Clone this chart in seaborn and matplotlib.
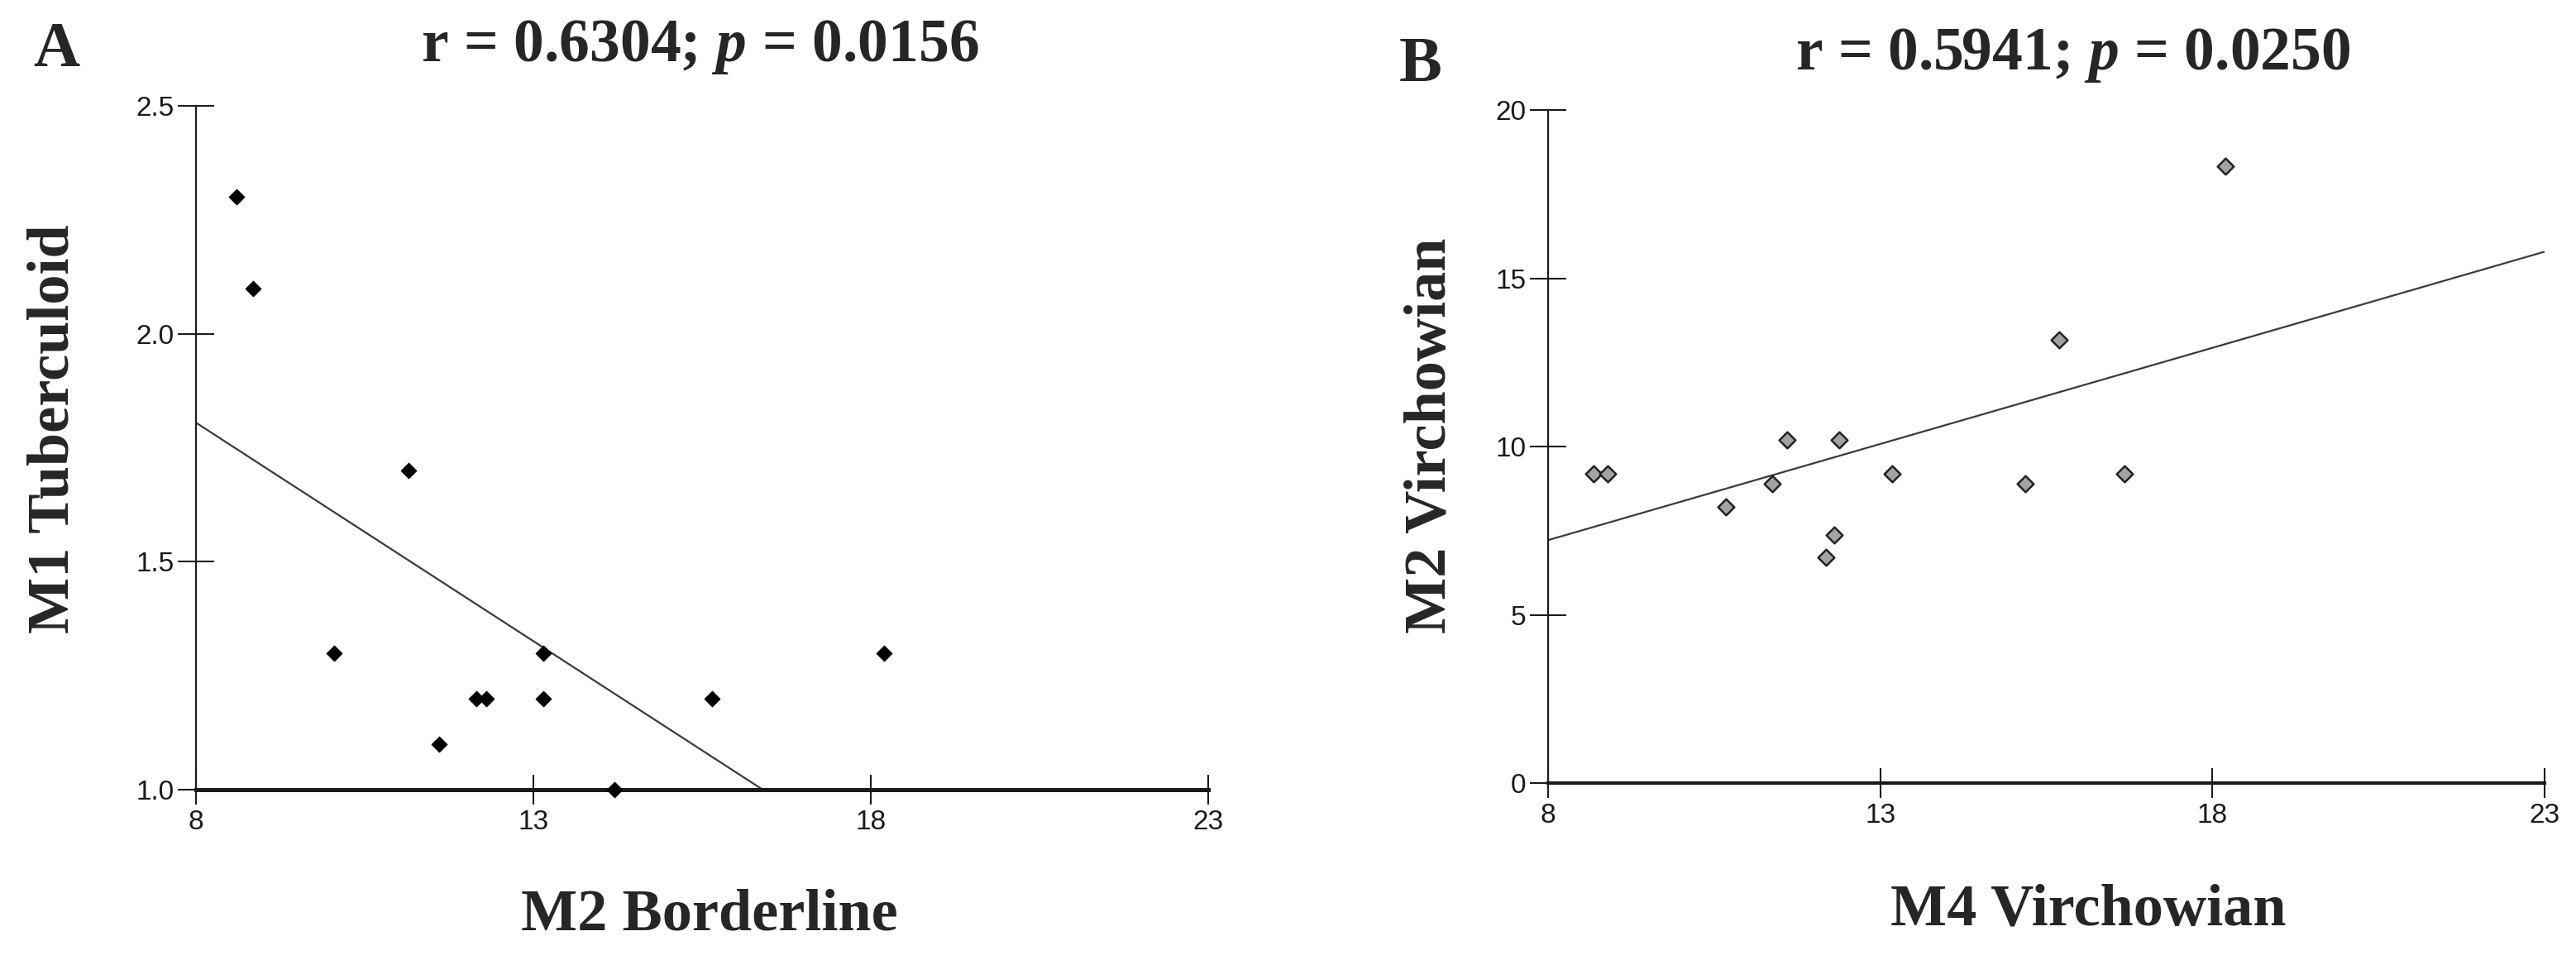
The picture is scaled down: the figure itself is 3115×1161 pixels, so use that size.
import numpy as np
import pandas as pd
import seaborn as sns
import matplotlib.pyplot as plt

# panel A: M2 Borderline vs M1 Tuberculoid
a_x = [8.6, 8.85, 11.15, 10.05, 13.15, 18.2, 12.15, 12.3, 13.15, 15.65, 11.6, 14.2]
a_y = [2.3, 2.1, 1.7, 1.3, 1.3, 1.3, 1.2, 1.2, 1.2, 1.2, 1.1, 1.0]
a_fit_x = [8.0, 16.4]
a_fit_y = [1.805, 1.0]

# panel B: M4 Virchowian vs M2 Virchowian
b_x = [8.68, 8.9, 10.68, 11.37, 11.6, 12.38, 12.3, 12.18, 13.18, 15.18, 15.69, 16.68, 18.2]
b_y = [9.2, 9.2, 8.2, 8.9, 10.2, 10.2, 7.38, 6.7, 9.2, 8.9, 13.18, 9.2, 18.33]
b_fit_x = [8.0, 23.0]
b_fit_y = [7.22, 15.79]

x_ticks = [8, 13, 18, 23]
a_yticks = [1.0, 1.5, 2.0, 2.5]
b_yticks = [0, 5, 10, 15, 20]

sns.set_style('white')
plt.rcParams['font.family'] = ['Liberation Serif', 'DejaVu Serif']
plt.rcParams['mathtext.fontset'] = 'custom'
plt.rcParams['mathtext.it'] = 'Liberation Serif:italic:bold'
plt.rcParams['mathtext.rm'] = 'Liberation Serif:bold'

fig = plt.figure(figsize=(31.15, 11.61), dpi=100)
ax_a = fig.add_axes([0.0761, 0.1774, 0.3929, 0.7123])
ax_b = fig.add_axes([0.6010, 0.1843, 0.3868, 0.7011])


def style_axis(ax, yticks, ylim, bottom_lw):
    ax.set_xlim(8, 23)
    ax.set_ylim(*ylim)
    ax.set_xticks(x_ticks)
    ax.set_yticks(yticks)
    sns.despine(ax=ax)
    ax.spines['left'].set_linewidth(1.6)
    ax.spines['left'].set_color('#1a1a1a')
    ax.spines['bottom'].set_linewidth(bottom_lw)
    ax.spines['bottom'].set_color('#1a1a1a')
    ax.tick_params(axis='y', direction='inout', length=32, width=1.5, pad=3,
                   labelsize=24, colors='#1a1a1a', left=True)
    ax.tick_params(axis='x', direction='inout', length=26, width=1.5, pad=4,
                   labelsize=24, colors='#1a1a1a', bottom=True)
    for lbl in ax.get_xticklabels() + ax.get_yticklabels():
        lbl.set_fontfamily('Liberation Sans')


# panel A
sns.lineplot(x=a_fit_x, y=a_fit_y, ax=ax_a, color='#3a3a3a', linewidth=1.6)
sns.scatterplot(x=a_x, y=a_y, ax=ax_a, marker='D', s=95, color='black',
                edgecolor='black', linewidth=0.5, clip_on=False, zorder=3)
style_axis(ax_a, a_yticks, (1.0, 2.5), 3.6)
ax_a.set_yticklabels(['1.0', '1.5', '2.0', '2.5'], fontfamily='Liberation Sans')
ax_a.set_title(r'r = 0.6304; $p$ = 0.0156', fontsize=53, fontweight='bold',
               x=0.4975, y=1.0556)
ax_a.set_xlabel('M2 Borderline', fontsize=52, fontweight='bold')
ax_a.set_ylabel('M1 Tuberculoid', fontsize=52, fontweight='bold')
ax_a.xaxis.set_label_coords(0.507, -0.145)
ax_a.yaxis.set_label_coords(-0.114, 0.528)

# panel B
sns.lineplot(x=b_fit_x, y=b_fit_y, ax=ax_b, color='#3a3a3a', linewidth=1.6)
sns.scatterplot(x=b_x, y=b_y, ax=ax_b, marker='D', s=100, color='#a3a3a3',
                edgecolor='#222222', linewidth=1.8, clip_on=False, zorder=3)
style_axis(ax_b, b_yticks, (0, 20), 3.0)
ax_b.set_title(r'r = 0.5941; $p$ = 0.0250', fontsize=53, fontweight='bold',
               x=0.527, y=1.0504)
ax_b.set_xlabel('M4 Virchowian', fontsize=52, fontweight='bold')
ax_b.set_ylabel('M2 Virchowian', fontsize=52, fontweight='bold')
ax_b.xaxis.set_label_coords(0.542, -0.149)
ax_b.yaxis.set_label_coords(-0.091, 0.516)

fig.text(0.0128, 0.931, 'A', fontsize=56, fontweight='bold', ha='left', va='baseline')
fig.text(0.5432, 0.9156, 'B', fontsize=56, fontweight='bold', ha='left', va='baseline')

fig.savefig('out.png', dpi=100, facecolor='white')
